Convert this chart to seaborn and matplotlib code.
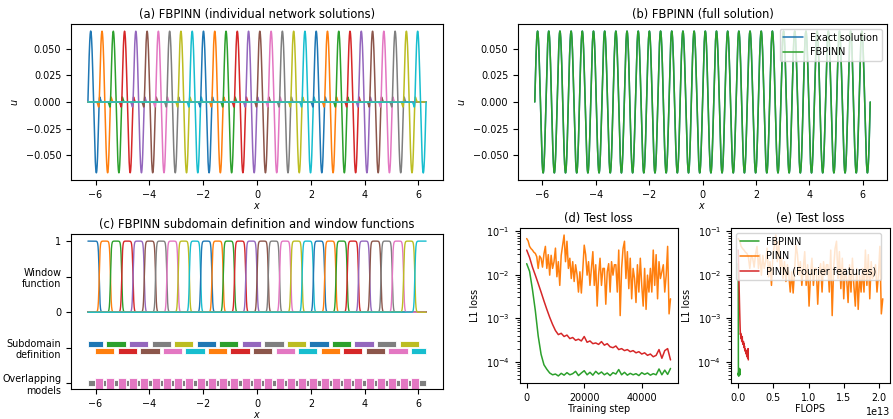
import numpy as np
import pandas as pd
import matplotlib.pyplot as plt
import seaborn as sb
#
# Problem set-up
omega = 15                      # u = sin(omega x) / omega
n_sub = 30                      # number of subdomains
domain = (-2 * np.pi, 2 * np.pi)
overlap = 0.15                  # half-width of the overlap between subdomains
window_sharpness = 0.017
sub_edges = np.linspace(domain[0], domain[1], n_sub + 1)
#
# FLOPS per training step (so the curves end where they end in panel e)
fbpinn_flops_per_step = 4.0e6
pinn_flops_per_step = 4.1e8
fourier_flops_per_step = 2.86e7
#
# Test loss curves
pinn_steps = np.arange(0, 50001, 500)
pinn_loss = [0.068, 0.060, 0.045, 0.040, 0.037, 0.033, 0.031, 0.026, 0.014, 0.027,
             0.024, 0.015, 0.030, 0.045, 0.014, 0.029, 0.0098, 0.028, 0.014, 0.020,
             0.041, 0.009, 0.020, 0.0057, 0.028, 0.048, 0.082, 0.020, 0.059, 0.014,
             0.024, 0.0082, 0.020, 0.007, 0.017, 0.010, 0.004, 0.0117, 0.0038, 0.013,
             0.048, 0.029, 0.0098, 0.020, 0.0057, 0.014, 0.034, 0.0057, 0.017, 0.0019,
             0.0098, 0.024, 0.0057, 0.014, 0.014, 0.0021, 0.0117, 0.018, 0.004, 0.020,
             0.0098, 0.017, 0.017, 0.004, 0.037, 0.00115, 0.014, 0.040, 0.059, 0.0082,
             0.034, 0.0048, 0.024, 0.0028, 0.014, 0.0082, 0.0023, 0.017, 0.004, 0.024,
             0.0057, 0.0019, 0.014, 0.0016, 0.0098, 0.004, 0.014, 0.004, 0.037, 0.0057,
             0.029, 0.0028, 0.020, 0.0082, 0.0117, 0.017, 0.004, 0.0098, 0.045, 0.00126,
             0.0028]
fbpinn_steps = np.arange(0, 50001, 1000)
fbpinn_loss = [0.018, 0.012, 0.0046, 0.0015, 0.00039, 0.000148, 0.000085, 0.000067, 0.000055, 0.000050,
               0.000052, 0.000047, 0.000054, 0.000049, 0.000056, 0.000050, 0.000053, 0.000060, 0.000048, 0.000055,
               0.000062, 0.000050, 0.000057, 0.000049, 0.000060, 0.000052, 0.000058, 0.000050, 0.000055, 0.000048,
               0.000056, 0.000052, 0.000066, 0.000050, 0.000057, 0.000049, 0.000054, 0.000050, 0.000053, 0.000048,
               0.000056, 0.000051, 0.000055, 0.000049, 0.000053, 0.000050, 0.000068, 0.000050, 0.000064, 0.000051,
               0.000070]
fourier_loss = [0.037, 0.025, 0.015, 0.0098, 0.0063, 0.0040, 0.0025, 0.0016, 0.00105, 0.00072,
                0.00052, 0.00042, 0.00045, 0.00038, 0.00041, 0.00034, 0.00036, 0.00031, 0.00033, 0.00030,
                0.00038, 0.00028, 0.00030, 0.00026, 0.00027, 0.00025, 0.00029, 0.00024, 0.00026, 0.00022,
                0.00021, 0.00023, 0.00019, 0.00020, 0.00018, 0.00019, 0.00017, 0.00018, 0.00016, 0.00017,
                0.00015, 0.00016, 0.00014, 0.00015, 0.00013, 0.00014, 0.00019, 0.00012, 0.00018, 0.00020,
                0.00011]
# colour order of the subdomains in panel (c) (gray and pink swapped there)
c_order = [0, 1, 2, 3, 4, 5, 7, 6, 8, 9]
#
# Style
sb.set_style("ticks")
plt.rcParams['font.family'] = 'DejaVu Sans'
plt.rcParams['axes.linewidth'] = 0.8
plt.rcParams['axes.edgecolor'] = 'black'
for k in ['text.color', 'axes.labelcolor', 'xtick.color', 'ytick.color']:
    plt.rcParams[k] = 'black'
plt.rcParams['xtick.labelsize'] = 6.9
plt.rcParams['ytick.labelsize'] = 6.9
plt.rcParams['axes.labelsize'] = 6.9
plt.rcParams['axes.titlesize'] = 8.3
plt.rcParams['legend.fontsize'] = 6.9
plt.rcParams['xtick.major.width'] = 0.8
plt.rcParams['ytick.major.width'] = 0.8
plt.rcParams['xtick.major.size'] = 3.5
plt.rcParams['ytick.major.size'] = 3.5
plt.rcParams['xtick.minor.size'] = 2
plt.rcParams['ytick.minor.size'] = 2
plt.rcParams['ytick.left'] = True
plt.rcParams['xtick.bottom'] = True
colours = sb.color_palette('tab10')
#
W, H = 893, 419
fig = plt.figure(figsize=(W / 100, H / 100), dpi=100)
def px_axes(l, t, r, b):
    return fig.add_axes([l / W, 1 - b / H, (r - l) / W, (b - t) / H])
ax_a = px_axes(71, 24, 443, 180)
ax_b = px_axes(518, 24, 887, 180)
ax_c = px_axes(71, 234, 443, 389)
ax_d = px_axes(519.5, 228, 677.7, 383)
ax_e = px_axes(731, 228, 890, 383)
#
x = np.linspace(domain[0], domain[1], 4000)
u_exact = np.sin(omega * x) / omega
sig = lambda z: 1 / (1 + np.exp(-z))
def window(i):
    w = np.ones_like(x)
    if i > 0:
        w = w * sig((x - sub_edges[i]) / window_sharpness)
    if i < n_sub - 1:
        w = w * sig((sub_edges[i + 1] - x) / window_sharpness)
    return w
xlim = (domain[0] - 0.05 * (domain[1] - domain[0]), domain[1] + 0.05 * (domain[1] - domain[0]))
u_ticks = [-0.05, -0.025, 0, 0.025, 0.05]
#
# (a) individual network solutions
for i in range(n_sub):
    sb.lineplot(x=x, y=window(i) * u_exact, ax=ax_a, color=colours[i % 10], lw=1.1, estimator=None, sort=False)
ax_a.set_xlim(xlim)
ax_a.set_yticks(u_ticks)
ax_a.set_title('(a) FBPINN (individual network solutions)', pad=4)
ax_a.set_xlabel('$x$', labelpad=1)
ax_a.set_ylabel('$u$')
#
# (b) full solution
sb.lineplot(x=x, y=u_exact, ax=ax_b, color=colours[0], lw=1.1, label='Exact solution', estimator=None, sort=False)
sb.lineplot(x=x, y=u_exact, ax=ax_b, color=colours[2], lw=1.1, label='FBPINN', estimator=None, sort=False)
ax_b.set_xlim(xlim)
ax_b.set_yticks(u_ticks)
ax_b.legend(loc='upper right')
ax_b.set_title('(b) FBPINN (full solution)', pad=4)
ax_b.set_xlabel('$x$', labelpad=1)
ax_b.set_ylabel('$u$')
#
# (c) subdomains and windows
for i in range(n_sub):
    sb.lineplot(x=x, y=window(i), ax=ax_c, color=colours[c_order[i % 10]], lw=1.0, estimator=None, sort=False)
sub_left = np.maximum(sub_edges[:-1] - overlap, domain[0])
sub_right = np.minimum(sub_edges[1:] + overlap, domain[1])
for i in range(n_sub):
    row = -0.45 if i % 2 == 0 else -0.55
    ax_c.barh(row, sub_right[i] - sub_left[i], left=sub_left[i], height=0.08,
              color=colours[c_order[i % 10]], edgecolor='white', linewidth=0.6)
# overlapping models: count of subdomains covering each segment
cuts = np.unique(np.concatenate([sub_left, sub_right]))
for a, b in zip(cuts[:-1], cuts[1:]):
    mid = 0.5 * (a + b)
    count = np.sum((sub_left <= mid) & (sub_right >= mid))
    if count == 1:
        ax_c.barh(-1, b - a, left=a, height=0.08, color=colours[7], edgecolor='white', linewidth=0.6)
    else:
        ax_c.barh(-1, b - a, left=a, height=0.155, color=colours[6], edgecolor='white', linewidth=0.6)
ax_c.set_xlim(xlim)
ax_c.set_ylim(-1.08, 1.1)
ax_c.set_yticks([1, 0.5, 0, -0.5, -1])
ax_c.set_yticklabels(['1', 'Window\nfunction', '0', 'Subdomain\ndefinition', 'Overlapping\nmodels'])
ax_c.set_title('(c) FBPINN subdomain definition and window functions', pad=4)
ax_c.set_xlabel('$x$', labelpad=1)
#
# (d) test loss vs training step
sb.lineplot(x=fbpinn_steps, y=fbpinn_loss, ax=ax_d, color=colours[2], lw=1.1, estimator=None)
sb.lineplot(x=pinn_steps, y=pinn_loss, ax=ax_d, color=colours[1], lw=1.1, estimator=None)
sb.lineplot(x=fbpinn_steps, y=fourier_loss, ax=ax_d, color=colours[3], lw=1.1, estimator=None)
ax_d.set_yscale('log')
ax_d.set_xticks([0, 20000, 40000])
ax_d.set_title('(d) Test loss', pad=4)
ax_d.set_xlabel('Training step', labelpad=1)
ax_d.set_ylabel('L1 loss')
#
# (e) test loss vs FLOPS
sb.lineplot(x=fbpinn_steps * fbpinn_flops_per_step, y=fbpinn_loss, ax=ax_e, color=colours[2], lw=1.1, label='FBPINN', estimator=None)
sb.lineplot(x=pinn_steps * pinn_flops_per_step, y=pinn_loss, ax=ax_e, color=colours[1], lw=1.1, label='PINN', estimator=None)
sb.lineplot(x=fbpinn_steps * fourier_flops_per_step, y=fourier_loss, ax=ax_e, color=colours[3], lw=1.1, label='PINN (Fourier features)', estimator=None)
ax_e.set_yscale('log')
ax_e.set_xticks([0, 0.5e13, 1.0e13, 1.5e13, 2.0e13])
ax_e.legend(loc='upper left')
ax_e.set_title('(e) Test loss', pad=4)
ax_e.set_xlabel('FLOPS', labelpad=1)
ax_e.set_ylabel('L1 loss')
#
fig.savefig('out.png', dpi=100)
